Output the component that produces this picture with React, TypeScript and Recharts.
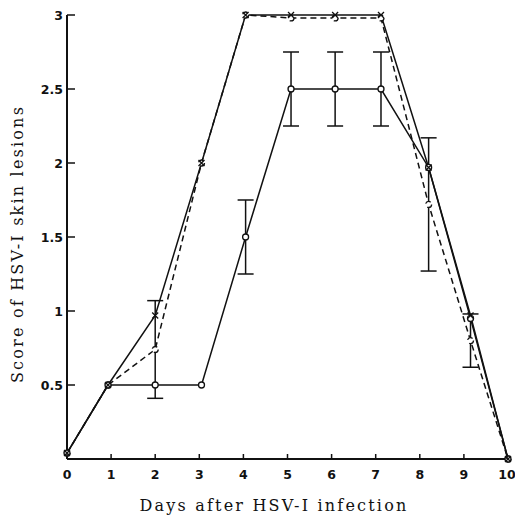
import { ErrorBar, Label, Line, LineChart, XAxis, YAxis } from "recharts";

// plotted x positions (days), as drawn in the figure
const dayPos = [0, 0.93, 2, 3.05, 4.05, 5.08, 6.08, 7.12, 8.2, 9.15, 10];
const topScore = [0.04, 0.5, 0.97, 2, 3, 3, 3, 3, 1.97, 0.97, 0];
const dashScore = [0.04, 0.5, 0.74, 2, 3, 2.98, 2.98, 2.98, 1.72, 0.8, 0];
const dashErr = [0, 0, 0.33, 0, 0, 0, 0, 0, 0.45, 0.18, 0];
const lowScore = [0.04, 0.5, 0.5, 0.5, 1.5, 2.5, 2.5, 2.5, 1.97, 0.95, 0];
const lowErr = [0, 0, 0, 0, 0.25, 0.25, 0.25, 0.25, 0, 0, 0];

const xTicks = [0, 1, 2, 3, 4, 5, 6, 7, 8, 9, 10];
const yTicks = [0.5, 1, 1.5, 2, 2.5, 3];

const data = dayPos.map((day, i) => ({
  day,
  top: topScore[i],
  dash: dashScore[i],
  dashErr: dashErr[i],
  low: lowScore[i],
  lowErr: lowErr[i],
}));

const tickFont = {
  fontFamily: "DejaVu Sans",
  fontWeight: 700,
  fontSize: 12.5,
  fill: "#111",
};

const YTick = (props: any) => {
  const { x, y, payload } = props;
  return (
    <g>
      <line x1={x + 4} x2={x + 12} y1={y} y2={y} stroke="#111" strokeWidth={1.5} />
      <text x={x} y={y} textAnchor="end" dominantBaseline="central" {...tickFont}>
        {String(payload.value)}
      </text>
    </g>
  );
};

const XTick = (props: any) => {
  const { x, y, payload } = props;
  return (
    <g>
      <line x1={x} x2={x} y1={y - 15} y2={y - 20} stroke="#111" strokeWidth={1.5} />
      <text x={x} y={y} textAnchor="middle" dominantBaseline="central" {...tickFont}>
        {String(payload.value)}
      </text>
    </g>
  );
};

const crossDot = (props: any) => {
  const { cx, cy, index } = props;
  return (
    <path
      key={"x" + index}
      d={`M${cx - 3},${cy - 3}L${cx + 3},${cy + 3}M${cx + 3},${cy - 3}L${cx - 3},${cy + 3}`}
      stroke="#111"
      strokeWidth={1.3}
    />
  );
};

const titleStyle = {
  fontFamily: "DejaVu Serif",
  fontSize: 16,
  letterSpacing: 2.2,
  fill: "#111",
};

export default function App() {
  return (
    <div style={{ position: "absolute", left: 0, top: 0, background: "#fff" }}>
      <LineChart
        width={515}
        height={524}
        data={data}
        margin={{ top: 15, right: 7, bottom: 0, left: 0 }}
      >
        <XAxis
          type="number"
          dataKey="day"
          domain={[0, 10]}
          ticks={xTicks}
          height={65}
          tickSize={0}
          tickMargin={15}
          tick={<XTick />}
          tickLine={false}
          axisLine={{ stroke: "#111", strokeWidth: 2 }}
        >
          <Label
            content={() => (
              <text x={274} y={511} textAnchor="middle" {...titleStyle}>
                Days after HSV-I infection
              </text>
            )}
          />
        </XAxis>
        <YAxis
          type="number"
          domain={[0, 3]}
          ticks={yTicks}
          width={67}
          tickSize={0}
          tickMargin={4}
          tick={<YTick />}
          tickLine={false}
          axisLine={{ stroke: "#111", strokeWidth: 2 }}
        >
          <Label
            content={() => (
              <text
                x={17}
                y={244}
                transform="rotate(-90 17 244)"
                textAnchor="middle"
                dominantBaseline="central"
                {...titleStyle}
              >
                Score of HSV-I skin lesions
              </text>
            )}
          />
        </YAxis>
        <Line
          type="linear"
          dataKey="dash"
          stroke="#111"
          strokeWidth={1.5}
          strokeDasharray="6 4"
          dot={{ r: 3, stroke: "#111", strokeWidth: 1.3, fill: "#fff" }}
          isAnimationActive={false}
        >
          <ErrorBar dataKey="dashErr" direction="y" width={8} stroke="#111" strokeWidth={1.5} />
        </Line>
        <Line
          type="linear"
          dataKey="low"
          stroke="#111"
          strokeWidth={1.5}
          dot={{ r: 3, stroke: "#111", strokeWidth: 1.3, fill: "#fff" }}
          isAnimationActive={false}
        >
          <ErrorBar dataKey="lowErr" direction="y" width={8} stroke="#111" strokeWidth={1.5} />
        </Line>
        <Line
          type="linear"
          dataKey="top"
          stroke="#111"
          strokeWidth={1.5}
          dot={crossDot}
          isAnimationActive={false}
        />
      </LineChart>
    </div>
  );
}
